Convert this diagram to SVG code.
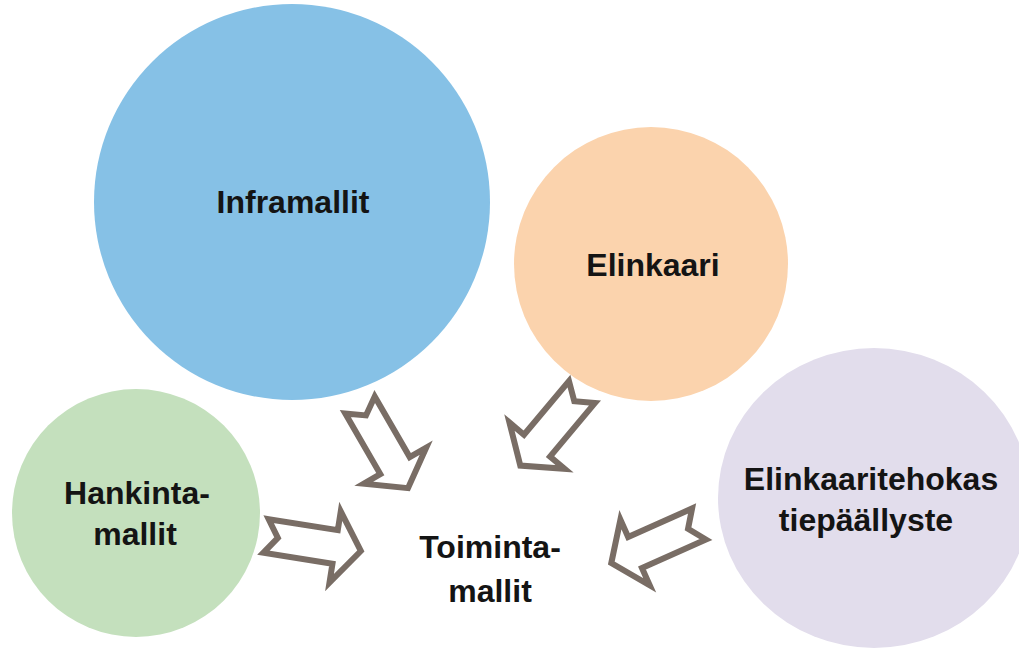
<svg xmlns="http://www.w3.org/2000/svg" width="1019" height="651" viewBox="0 0 1019 651">
  <defs>
    <style>
      .lbl { font-family: "Liberation Sans", Arial, sans-serif; font-weight: bold; font-size: 32px; fill: #141414; text-anchor: middle; }
      .arrow { fill: #ffffff; stroke: #796d65; stroke-width: 6; stroke-linejoin: miter; }
    </style>
    <polygon id="blockArrow" class="arrow" points="0,-17 70,-17 70,-36 96,0 70,36 70,17 0,17 12,0"/>
  </defs>
  <rect width="1019" height="651" fill="#ffffff"/>

  <g id="node-inframallit">
    <circle cx="292" cy="202" r="198" fill="#86c1e6"/>
    <text class="lbl" x="293" y="213">Inframallit</text>
  </g>

  <g id="node-elinkaari">
    <circle cx="651" cy="264" r="137" fill="#fbd3ad"/>
    <text class="lbl" x="653" y="276">Elinkaari</text>
  </g>

  <g id="node-hankintamallit">
    <circle cx="136" cy="513" r="124" fill="#c4e0bd"/>
    <text class="lbl" x="137" y="504">Hankinta-</text>
    <text class="lbl" x="135" y="545">mallit</text>
  </g>

  <g id="node-elinkaaritehokas">
    <ellipse cx="874" cy="498" rx="156" ry="150" fill="#e2ddec"/>
    <text class="lbl" x="871" y="490">Elinkaaritehokas</text>
    <text class="lbl" x="866" y="531">tiepäällyste</text>
  </g>

  <g id="node-toimintamallit">
    <text class="lbl" x="490" y="558">Toiminta-</text>
    <text class="lbl" x="490" y="602">mallit</text>
  </g>

  <g id="connectors">
    <use href="#blockArrow" transform="translate(360,405) rotate(60)"/>
    <use href="#blockArrow" transform="translate(582,392) rotate(130)"/>
    <use href="#blockArrow" transform="translate(266,536) rotate(9)"/>
    <use href="#blockArrow" transform="translate(699,524) rotate(156)"/>
  </g>
</svg>
